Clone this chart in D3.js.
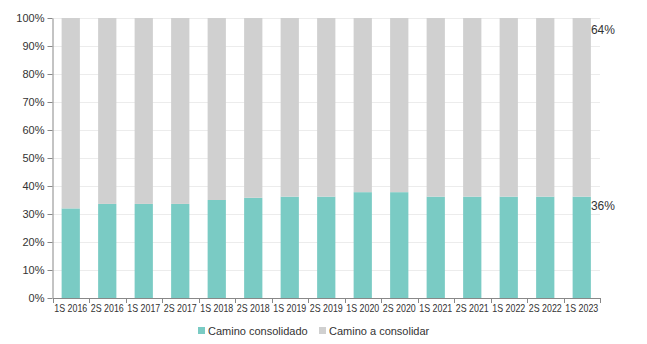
<!DOCTYPE html>
<html><head><meta charset="utf-8">
<script src="https://cdn.jsdelivr.net/npm/d3@7"></script>
<style>body{margin:0;background:#fff;font-family:"Liberation Sans",Arial,sans-serif;}</style>
</head><body><svg id="c" width="647" height="344"></svg>
<script>
const categories = ["1S 2016","2S 2016","1S 2017","2S 2017","1S 2018","2S 2018","1S 2019","2S 2019","1S 2020","2S 2020","1S 2021","2S 2021","1S 2022","2S 2022","1S 2023"];
const consolidado = [32,33.6,33.6,33.6,35,35.8,36.2,36.2,37.8,37.8,36.2,36.2,36.2,36.2,36.2];
const aConsolidar = consolidado.map(v => 100 - v);
const seriesNames = ["Camino consolidado","Camino a consolidar"];
const colors = ["#7ACBC4","#D0D0D0"];
const yTicks = [0,10,20,30,40,50,60,70,80,90,100];

const svg = d3.select("#c");
const m = {l:52.5, r:600, t:18, b:298};
const x = d3.scaleBand().domain(categories).range([m.l, m.r]).paddingInner(0.5).paddingOuter(0.25);
const y = d3.scaleLinear().domain([0,100]).range([m.b, m.t]);

// grid
svg.append("g").selectAll("line").data(yTicks.slice(1)).join("line")
  .attr("x1", m.l).attr("x2", m.r).attr("y1", d=>y(d)+0.5).attr("y2", d=>y(d)+0.5)
  .attr("stroke","#ececec");

const data = categories.map((c,i)=>({c, a:consolidado[i], b:aConsolidar[i]}));
const stack = d3.stack().keys(["a","b"])(data);
svg.append("g").selectAll("g").data(stack).join("g").attr("fill",(d,i)=>colors[i])
  .selectAll("rect").data(d=>d).join("rect")
  .attr("x", d=>x(d.data.c)).attr("width", x.bandwidth())
  .attr("y", d=>y(d[1])).attr("height", d=>y(d[0])-y(d[1]));

// axes
const ya = svg.append("g").attr("transform",`translate(${m.l},0)`)
  .call(d3.axisLeft(y).tickValues(yTicks).tickFormat(d=>d+"%").tickSize(5).tickSizeOuter(0));
const xa = svg.append("g").attr("transform",`translate(0,${m.b})`)
  .call(d3.axisBottom(x).tickSize(0).tickSizeOuter(0));
[ya,xa].forEach(a=>{
  a.selectAll("path,line").attr("stroke","#888");
  a.selectAll("text").attr("fill","#333").style("font-family","Liberation Sans, Arial, sans-serif").style("font-size","11px");
});
ya.selectAll("text").attr("x",-8);
xa.selectAll("text").attr("dy","0.71em").attr("y",7).style("font-size","10.5px")
  .attr("textLength",33).attr("lengthAdjust","spacingAndGlyphs");
// x ticks at band boundaries
const step = x.step();
const bounds = d3.range(categories.length+1).map(i=>m.l + i*step);
svg.append("g").selectAll("line").data(bounds).join("line")
  .attr("x1",d=>Math.round(d)+0.5).attr("x2",d=>Math.round(d)+0.5).attr("y1",m.b).attr("y2",m.b+5).attr("stroke","#888");

// end labels
const last = data[data.length-1];
const lx = x(last.c)+x.bandwidth();
svg.append("text").attr("x",lx).attr("y",y(100)+12).attr("dy","0.35em")
  .attr("fill","#333").style("font-size","12px").text(Math.round(last.b)+"%");
svg.append("text").attr("x",lx).attr("y",y(last.a)+9).attr("dy","0.35em")
  .attr("fill","#333").style("font-size","12px").text(Math.round(last.a)+"%");

// legend
const lg = svg.append("g").attr("transform","translate(0,331)");
const lpos = [198, 319];
seriesNames.forEach((n,i)=>{
  lg.append("rect").attr("x",lpos[i]).attr("y",-4).attr("width",7).attr("height",7).attr("fill",colors[i]);
  lg.append("text").attr("x",lpos[i]+10).attr("y",0).attr("dy","0.35em").attr("fill","#333")
    .style("font-size","11px").text(n);
});
</script></body></html>
